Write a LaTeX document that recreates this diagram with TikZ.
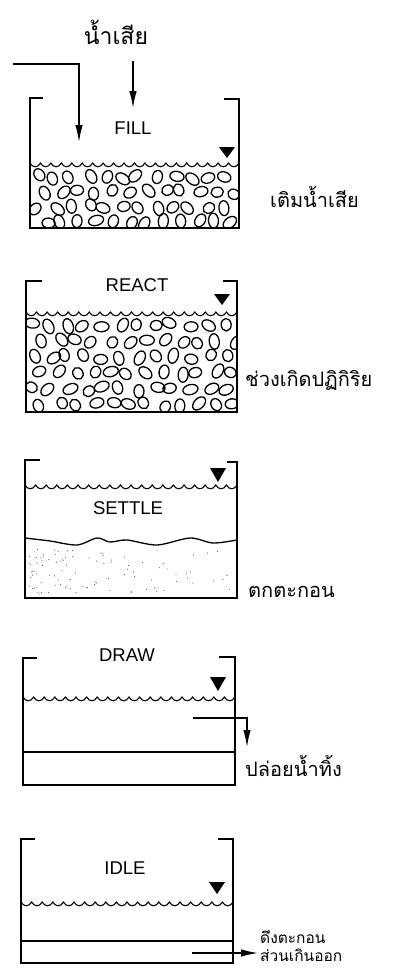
\documentclass[tikz,border=0pt]{standalone}
\usepackage{fontspec}
\setmainfont{Liberation Sans}
\newfontfamily\thaifont[Script=Thai]{Loma}
\usetikzlibrary{arrows.meta,positioning}

\begin{document}
\begin{tikzpicture}[x=1pt,y=-1pt,
  wall/.style={line width=1.7pt,line join=miter},
  pipe/.style={line width=1.3pt,-{Latex[length=17pt,width=7.5pt]}},
  surface/.style={line width=1.1pt},
  bubble/.style={line width=1.3pt},
  level/.style={fill=black},
  stage/.style={font=\fontsize{18.5}{20}\selectfont,inner sep=0pt},
  note/.style={font=\thaifont\fontsize{20}{20}\selectfont,anchor=west,inner sep=0pt},
]
\useasboundingbox (0,0) rectangle (403,970);
\pgfmathsetseed{31}

% influent
\node[font=\thaifont\fontsize{23}{24}\selectfont,inner sep=0pt] (influent) at (116,32) {น้ำเสีย};
\coordinate (feedA) at (13,64);
\coordinate (feedB) at (79,64);
\coordinate (feedC) at (79,142);
\coordinate (dropA) at (133,61);
\coordinate (dropB) at (133,108);
\draw[pipe] (feedA) -- (feedB) -- (feedC);
\draw[pipe] (dropA) -- (dropB);

% FILL tank
\draw[wall] (43,98) -- (30,98) -- (30,228) -- (239,228) -- (239,99) -- (224,99);
\node[stage] (fill) at (133,128) {FILL};
\fill[level] (219,147) -- (235,147) -- (227,158) -- cycle;
\draw[surface] (30,163) \foreach \i in {1,...,20}{
  .. controls ({30+\i*10.45-8},168) and ({30+\i*10.45-2.5},168) .. ({30+\i*10.45},163)};
\begin{scope}
  \clip (31,166) rectangle (238,227);
  \foreach \r in {0,...,3}{
    \foreach \c in {0,...,11}{
      \pgfmathsetmacro\bx{37+\c*17+mod(\r,2)*8+4*rand}
      \pgfmathsetmacro\by{177+\r*15+2.5*rand}
      \pgfmathsetmacro\ba{90*rand}
      \pgfmathsetmacro\brx{6+1.8*rnd}
      \draw[bubble,rotate around={\ba:(\bx,\by)}] (\bx,\by) ellipse [x radius=\brx pt,y radius=5pt];
    }
  }
\end{scope}
\node[note] (fillnote) at (270,197) {เติมน้ำเสีย};

% REACT tank
\draw[wall] (42,281) -- (26,281) -- (26,412) -- (237,412) -- (237,281) -- (223,281);
\node[stage] (react) at (137,285) {REACT};
\fill[level] (214,294) -- (230,294) -- (222,305) -- cycle;
\draw[surface] (26,312) \foreach \i in {1,...,20}{
  .. controls ({26+\i*10.55-8},317) and ({26+\i*10.55-2.5},317) .. ({26+\i*10.55},312)};
\begin{scope}
  \clip (27,315) rectangle (236,411);
  \foreach \r in {0,...,5}{
    \foreach \c in {0,...,11}{
      \pgfmathsetmacro\bx{33+\c*17.5+mod(\r,2)*8+4*rand}
      \pgfmathsetmacro\by{325+\r*16+2.5*rand}
      \pgfmathsetmacro\ba{90*rand}
      \pgfmathsetmacro\brx{6+1.8*rnd}
      \draw[bubble,rotate around={\ba:(\bx,\by)}] (\bx,\by) ellipse [x radius=\brx pt,y radius=5pt];
    }
  }
\end{scope}
\node[note] (reactnote) at (245,380) {ช่วงเกิดปฏิกิริย};

% SETTLE tank
\draw[wall] (40,460) -- (25,460) -- (25,598) -- (237,598) -- (237,462) -- (227,462);
\fill[level] (210,468) -- (226,468) -- (218,482) -- cycle;
\draw[surface] (25,485) \foreach \i in {1,...,20}{
  .. controls ({25+\i*10.6-8},490) and ({25+\i*10.6-2.5},490) .. ({25+\i*10.6},485)};
\node[stage] (settle) at (128,508) {SETTLE};
% sludge blanket
\draw[surface,line width=1.3pt] plot[smooth] coordinates
  {(25,538) (50,541) (77,545) (97,538) (110,542) (127,540) (157,545) (190,538) (213,543) (237,540)};
\foreach \i in {1,...,100}{
  \pgfmathsetmacro\sx{29+205*rnd^1.7}
  \pgfmathsetmacro\sy{549+45*rnd}
  \fill[black!70] (\sx,\sy) circle (0.55pt);
}
\node[note] (settlenote) at (248,592) {ตกตะกอน};

% DRAW tank
\draw[wall] (37,658) -- (23,658) -- (23,785) -- (235,785) -- (235,657) -- (219,657);
\node[stage] (draw) at (127,655) {DRAW};
\fill[level] (210,677) -- (226,677) -- (218,691) -- cycle;
\draw[surface] (23,697) \foreach \i in {1,...,20}{
  .. controls ({23+\i*10.6-8},702) and ({23+\i*10.6-2.5},702) .. ({23+\i*10.6},697)};
\draw[wall,line width=1.3pt] (23,752) -- (235,752);
\coordinate (decantA) at (193,718);
\coordinate (decantB) at (247,718);
\coordinate (decantC) at (247,747);
\draw[pipe] (decantA) -- (decantB) -- (decantC);
\node[note] (drawnote) at (245,766) {ปล่อยน้ำทิ้ง};

% IDLE tank
\draw[wall] (35,839) -- (21,839) -- (21,963) -- (233,963) -- (233,839) -- (218,839);
\node[stage] (idle) at (125,868) {IDLE};
\fill[level] (209,882) -- (225,882) -- (217,894) -- cycle;
\draw[surface] (21,902) \foreach \i in {1,...,20}{
  .. controls ({21+\i*10.6-8},907) and ({21+\i*10.6-2.5},907) .. ({21+\i*10.6},902)};
\draw[wall,line width=1.3pt] (21,941) -- (233,941);
\coordinate (wasteA) at (192,953);
\coordinate (wasteB) at (258,953);
\draw[pipe] (wasteA) -- (wasteB);
\node[note,font=\thaifont\fontsize{15.5}{16}\selectfont,anchor=base west] (idlenote) at (260,943) {ดึงตะกอน};
\node[note,font=\thaifont\fontsize{15.5}{16}\selectfont,anchor=base west] (idlenotetwo) at (260,961) {ส่วนเกินออก};
\end{tikzpicture}
\end{document}
